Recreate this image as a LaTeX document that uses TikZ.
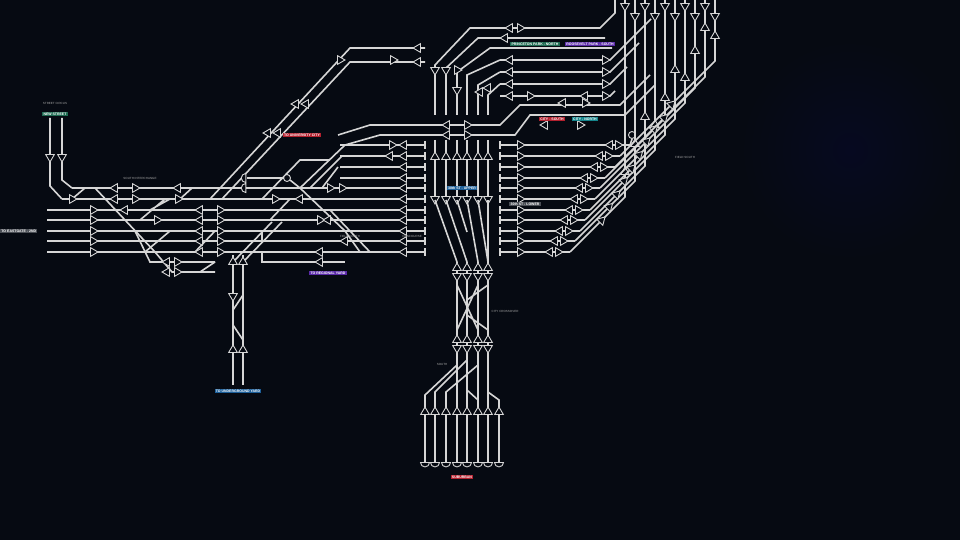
\documentclass[tikz,border=0pt]{standalone}
\usepackage{fontspec}
\setmainfont{Liberation Sans}
\usetikzlibrary{shapes.geometric}
\definecolor{bg}{HTML}{060A12}
\definecolor{trk}{HTML}{D6D6D6}
\definecolor{lred}{HTML}{B3202E}
\definecolor{lblue}{HTML}{1C5F9A}
\definecolor{lpur}{HTML}{5A2AA8}
\definecolor{lgrn}{HTML}{1E6B52}
\definecolor{lteal}{HTML}{14858C}
\definecolor{lgry}{HTML}{4A4E55}
\tikzset{
 trk/.style={draw=trk,line width=1.6pt},
 sg/.style={regular polygon,regular polygon sides=3,draw=trk,fill=bg,line width=0.9pt,minimum size=10pt,inner sep=0pt},
 bump/.style={draw=trk,line width=0.9pt,fill=bg,semicircle,minimum size=4.5pt,inner sep=0pt},
 lab/.style={font=\fontsize{3.5}{4}\selectfont\bfseries,text=white,inner sep=1.2pt},
 note/.style={font=\fontsize{3}{4}\selectfont,text=gray!70},
}
\newcommand{\sR}[2]{\node[sg,shape border rotate=-90] (sr-#1-#2) at (#1,#2) {};}
\newcommand{\sL}[2]{\node[sg,shape border rotate=90] (sl-#1-#2) at (#1,#2) {};}
\newcommand{\sU}[2]{\node[sg] (su-#1-#2) at (#1,#2) {};}
\newcommand{\sD}[2]{\node[sg,shape border rotate=180] (sd-#1-#2) at (#1,#2) {};}
\begin{document}
\begin{tikzpicture}[x=1pt,y=-1pt]
\useasboundingbox (0,0) rectangle (960,540);
\fill[bg] (0,0) rectangle (960,540);
\begin{scope}
\clip (0,0) rectangle (960,540);
\shade[inner color=blue!6!bg,outer color=bg] (850,150) circle (110);
\end{scope}
% ---------- left group
\draw[trk] (50,118)--(50,186)--(62,199);
\draw[trk] (62,118)--(62,180)--(72,188);
\draw[trk] (72,188)--(225,188);
\draw[trk] (62,199)--(225,199);
\foreach \y in {210,220,231,241,252} \draw[trk] (47,\y)--(225,\y);
\draw[trk] (95,188)--(155,252)--(172,272)--(215,272);
\draw[trk] (135,231)--(150,262)--(215,262);
\draw[trk] (72,199)--(85,188) (140,220)--(165,199) (150,210)--(170,199) (180,199)--(192,188);
\draw[trk] (145,252)--(170,231) (195,252)--(215,231) (200,272)--(215,262);
\foreach \y in {210,220,231,241,252} {\sR{93}{\y}\sL{200}{\y}\sR{220}{\y}}
\sD{50}{157}\sD{62}{157}
\sR{72}{199}\sL{115}{188}\sL{115}{199}\sR{135}{188}\sR{135}{199}\sL{178}{188}\sR{178}{199}
\sL{125}{210}\sR{157}{220}\sL{167}{262}\sR{177}{262}\sL{167}{272}\sR{177}{272}
\node[lab,fill=lgrn] (lnew) at (55,114) {NEW STREET};
\node[note] (nnew) at (55,103) {STREET CIRCUS};
\node[note] (nwest) at (140,178) {SOUTH INTERCHANGE};
\node[lab,fill=lgry,anchor=west] (lleft) at (0,231) {TO EASTGATE - 2ND};
% diagonals to top-left
\draw[trk] (210,199)--(350,48)--(425,48);
\draw[trk] (222,199)--(350,62)--(425,62);
\sL{268}{133}\sL{278}{133}\sL{296}{104}\sL{306}{104}\sR{340}{60}\sR{393}{60}\sL{418}{48}\sL{418}{62}
\node[lab,fill=lred] (luni) at (302,135) {TO UNIVERSITY CITY};
% vertical pair down
\draw[trk] (233,255)--(233,385);
\draw[trk] (243,255)--(243,385);
\draw[trk] (233,262)--(272,222) (243,262)--(282,222) (233,310)--(243,295) (233,325)--(243,340);
\sU{233}{262}\sU{243}{262}\sD{233}{296}\sU{233}{350}\sU{243}{350}
\node[lab,fill=lblue] (lund) at (238,391) {TO UNDERGROUND YARD};
% ---------- middle block
\foreach \y in {188,199,210,220,231,241,252} \draw[trk] (225,\y)--(425,\y);
\foreach \y in {145,156,167,178} \draw[trk] (340,\y)--(425,\y);
\draw[trk] (300,188)--(345,145) (310,188)--(342,156) (322,188)--(338,167) (262,199)--(300,160)--(330,160);
\draw[trk] (300,188)--(345,231)--(360,252) (330,210)--(370,252) (270,220)--(290,199);
\draw[trk] (262,252)--(262,262)--(345,262) (262,231)--(262,241);
\draw[trk] (338,135)--(370,125)--(430,125) (345,145)--(380,135)--(430,135);
\foreach \y in {145,156,167,178,188,199,210,220,231,241,252} {\draw[trk] (425,\y-4)--(425,\y+4); \sL{404}{\y}}
\sR{392}{145}\sL{390}{156}\sR{330}{188}\sL{300}{199}\sR{320}{220}\sL{328}{220}\sR{275}{199}\sL{345}{241}\sL{320}{252}\sL{320}{262}\sR{342}{188}
\node[bump,shape border rotate=90] (b1) at (244,178) {};
\node[bump,shape border rotate=90] (b2) at (244,188) {};
\node[draw=trk,line width=0.9pt,fill=bg,circle,minimum size=7pt,inner sep=0pt] (b3) at (287,178) {};
\draw[trk] (247,178)--(284,178) (247,188)--(265,188) (290,180)--(300,188);
\node[lab,fill=lpur] (lreg) at (328,273) {TO REGIONAL YARD};
\node[note] (nnorth) at (350,236) {FIELD NORTH};
% ---------- centre station
\foreach \x in {435,446,457,467,478,488} {\draw[trk] (\x,140)--(\x,200); \sU{\x}{157}\sD{\x}{199}}
\draw[trk] (435,200)--(457,262) (446,200)--(467,262) (457,200)--(467,232) (467,200)--(478,262) (478,200)--(488,262) (488,200)--(488,262);
\foreach \x in {457,467,478,488} {\draw[trk] (\x,262)--(\x,410); \sU{\x}{268}\sD{\x}{276}\sU{\x}{340}\sD{\x}{348}}
\draw[trk] (457,285)--(478,330) (478,285)--(457,330) (467,300)--(488,285) (467,315)--(488,330);
\draw[trk] (425,410)--(425,395)--(457,365) (435,410)--(435,392)--(467,360) (446,410)--(446,392)--(478,365) (499,410)--(499,400)--(488,392) (478,400)--(467,390);
\foreach \x in {425,435,446,457,467,478,488,499} {\draw[trk] (\x,410)--(\x,462); \sU{\x}{412}
 \node[bump,shape border rotate=180,anchor=north] (e\x) at (\x,462) {};}
\node[lab,fill=lblue] (lup) at (462,188) {30th ST - UPPER};
\node[lab,fill=lred] (lsub) at (462,477) {SUBURBAN};
\node[note] (ncross) at (505,311) {CITY CROSSOVER};
\node[note] (nsouth) at (442,364) {SOUTH};
\node[note] (nmid) at (412,236) {CONCOURSE};
% ---------- right block
\foreach \y/\e in {145/630,156/620,167/615,178/605,188/600,199/595,210/590,220/585,231/580,241/575,252/570}{
 \draw[trk] (500,\y-4)--(500,\y+4); \draw[trk] (500,\y)--(\e,\y); \sR{520}{\y}\sL{\e-20}{\y}\sR{\e-12}{\y}}
\node[draw=trk,line width=0.9pt,fill=bg,circle,minimum size=7pt,inner sep=0pt] (b4) at (632,135) {};
\draw[trk] (630,145)--(632,139);
\foreach \k/\s/\e in {0/252/570,1/241/575,2/231/580,3/220/585,4/210/590,5/199/595,6/188/600,7/178/605,8/167/615,9/156/620}{
 \pgfmathsetmacro{\tx}{625+10*\k}
 \pgfmathsetmacro{\ty}{\s-(625+10*\k-\e)}
 \draw[trk] (\e,\s)--(\tx,\ty)--(\tx,0);
 \pgfmathsetmacro{\mx}{(\e+\tx)/2+4}
 \pgfmathsetmacro{\my}{(\s+\ty)/2-4}
 \node[sg,shape border rotate=-45] (sd\k) at (\mx,\my) {};
 \pgfmathsetmacro{\vy}{\ty-25-mod(\k,3)*12}
 \node[sg] (sv\k) at (\tx,\vy) {};
 \pgfmathsetmacro{\wy}{6+mod(\k,2)*10}
 \node[sg,shape border rotate=180] (sw\k) at (\tx,\wy) {};
}
\node[lab,fill=lgry] (llow) at (525,204) {30th ST - LOWER};
\node[note] (neast) at (685,157) {FIELD SOUTH};
% ---------- top area
\draw[trk] (435,115)--(435,65)--(470,28)--(600,28)--(615,13)--(615,0);
\draw[trk] (446,115)--(446,68)--(478,38)--(605,38);
\draw[trk] (457,115)--(457,72)--(490,48)--(612,48);
\foreach \y in {60,72,84,96} {\draw[trk] (500,\y)--(610,\y)--(615+96-\y,\y-96+\y-5);}
\draw[trk] (467,115)--(467,75)--(500,60) (478,115)--(478,85)--(500,72) (488,115)--(488,95)--(500,84);
\draw[trk] (430,125)--(500,125)--(520,105)--(620,105)--(650,75);
\draw[trk] (430,135)--(515,135)--(530,115)--(625,115)--(655,85);
\draw[trk] (500,96)--(520,96);
\foreach \y in {60,72,84} {\sL{510}{\y}\sR{605}{\y}}
\sL{510}{96}\sR{530}{96}\sL{585}{96}\sR{605}{96}\sL{510}{28}\sR{520}{28}\sL{505}{38}
\sL{563}{103}\sR{585}{103}\sL{545}{125}\sR{580}{125}\sL{447}{125}\sR{467}{125}\sL{447}{135}\sR{467}{135}
\sD{435}{70}\sD{446}{70}\sR{457}{70}\sD{457}{90}\sL{480}{92}\sL{488}{88}
\node[lab,fill=lgrn] (lg2) at (535,44) {PRINCETON PARK - NORTH};
\node[lab,fill=lpur] (lp2) at (590,44) {ROOSEVELT PARK - SOUTH};
\node[lab,fill=lred] (lr2) at (552,119) {CITY - SOUTH};
\node[lab,fill=lteal] (lt2) at (585,119) {CITY - NORTH};
\end{tikzpicture}
\end{document}
